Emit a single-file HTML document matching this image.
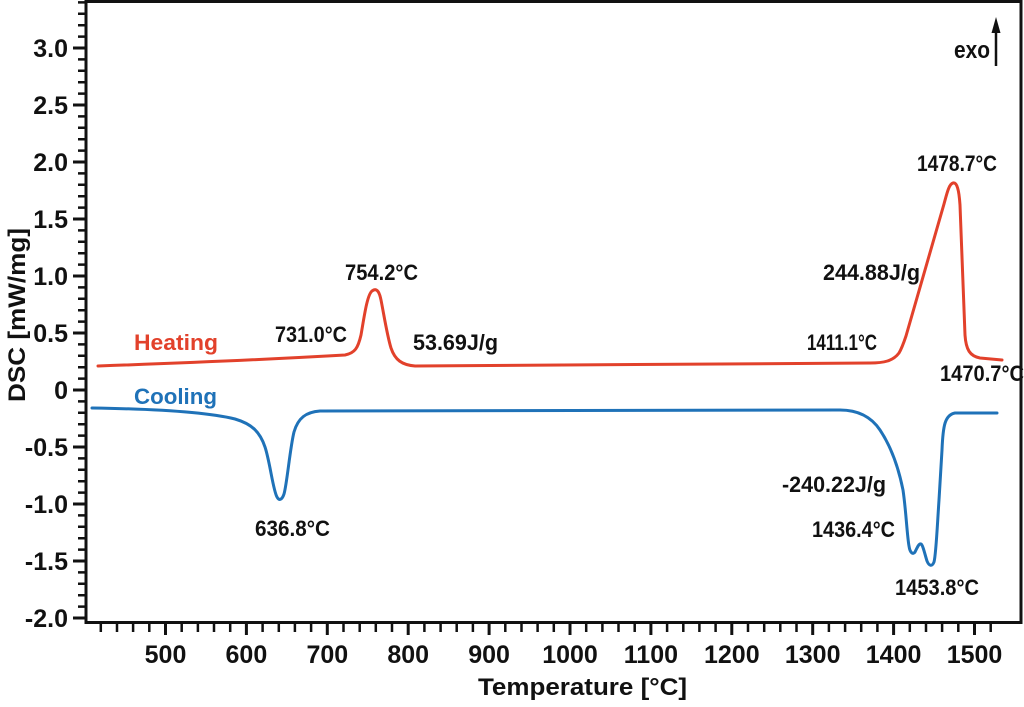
<!DOCTYPE html>
<html>
<head>
<meta charset="utf-8">
<style>
html,body{margin:0;padding:0;background:#fff;}
svg{display:block;}
text{font-family:"Liberation Sans",Arial,sans-serif;font-weight:bold;fill:#111;}
</style>
</head>
<body>
<svg width="1024" height="707" viewBox="0 0 1024 707" xmlns="http://www.w3.org/2000/svg">
<rect width="1024" height="707" fill="#fff"/>

<!-- frame -->
<rect x="86" y="1.5" width="935" height="621" fill="none" stroke="#111" stroke-width="3"/>

<!-- y minor ticks -->
<path stroke="#111" stroke-width="2.5" fill="none" d="
M78,2.4H86 M78,13.8H86 M78,25.2H86 M78,36.6H86
M78,59.4H86 M78,70.8H86 M78,82.2H86 M78,93.6H86
M78,116.4H86 M78,127.8H86 M78,139.2H86 M78,150.6H86
M78,173.4H86 M78,184.8H86 M78,196.2H86 M78,207.6H86
M78,230.4H86 M78,241.8H86 M78,253.2H86 M78,264.6H86
M78,287.4H86 M78,298.8H86 M78,310.2H86 M78,321.6H86
M78,344.4H86 M78,355.8H86 M78,367.2H86 M78,378.6H86
M78,401.4H86 M78,412.8H86 M78,424.2H86 M78,435.6H86
M78,458.4H86 M78,469.8H86 M78,481.2H86 M78,492.6H86
M78,515.4H86 M78,526.8H86 M78,538.2H86 M78,549.6H86
M78,572.4H86 M78,583.8H86 M78,595.2H86 M78,606.6H86"/>
<!-- y major ticks -->
<path stroke="#111" stroke-width="3" fill="none" d="
M73,48H86 M73,105H86 M73,162H86 M73,219H86 M73,276H86 M73,333H86
M73,390H86 M73,447H86 M73,504H86 M73,561H86 M73,618H86"/>

<!-- y tick labels -->
<g font-size="25" text-anchor="end">
<text x="68" y="57">3.0</text>
<text x="68" y="114">2.5</text>
<text x="68" y="171">2.0</text>
<text x="68" y="228">1.5</text>
<text x="68" y="285">1.0</text>
<text x="68" y="342">0.5</text>
<text x="68" y="399">0</text>
<text x="68" y="456">-0.5</text>
<text x="68" y="513">-1.0</text>
<text x="68" y="570">-1.5</text>
<text x="68" y="627">-2.0</text>
</g>

<!-- x minor ticks -->
<path stroke="#111" stroke-width="2.5" fill="none" d="
M100.8,623V632 M117,623V632 M133.1,623V632 M149.3,623V632
M181.7,623V632 M197.9,623V632 M214,623V632 M230.2,623V632
M262.6,623V632 M278.8,623V632 M294.9,623V632 M311.1,623V632
M343.5,623V632 M359.7,623V632 M375.8,623V632 M392,623V632
M424.4,623V632 M440.6,623V632 M456.7,623V632 M472.9,623V632
M505.3,623V632 M521.5,623V632 M537.6,623V632 M553.8,623V632
M586.2,623V632 M602.4,623V632 M618.5,623V632 M634.7,623V632
M667.1,623V632 M683.3,623V632 M699.4,623V632 M715.6,623V632
M748,623V632 M764.2,623V632 M780.3,623V632 M796.5,623V632
M828.9,623V632 M845.1,623V632 M861.2,623V632 M877.4,623V632
M909.8,623V632 M926,623V632 M942.1,623V632 M958.3,623V632
M990.7,623V632"/>
<!-- x major ticks -->
<path stroke="#111" stroke-width="3" fill="none" d="
M165.5,623V635 M246.4,623V635 M327.3,623V635 M408.2,623V635 M489.1,623V635
M570,623V635 M650.9,623V635 M731.8,623V635 M812.7,623V635 M893.6,623V635 M974.5,623V635"/>

<!-- x tick labels -->
<g font-size="25" text-anchor="middle">
<text x="165.5" y="663">500</text>
<text x="246.4" y="663">600</text>
<text x="327.3" y="663">700</text>
<text x="408.2" y="663">800</text>
<text x="489.1" y="663">900</text>
<text x="570" y="663">1000</text>
<text x="650.9" y="663">1100</text>
<text x="731.8" y="663">1200</text>
<text x="812.7" y="663">1300</text>
<text x="893.6" y="663">1400</text>
<text x="974.5" y="663">1500</text>
</g>

<!-- axis titles -->
<text x="478" y="695" font-size="24" textLength="209" lengthAdjust="spacingAndGlyphs">Temperature [°C]</text>
<text transform="translate(25,402) rotate(-90)" x="0" y="0" font-size="24" textLength="174" lengthAdjust="spacingAndGlyphs">DSC [mW/mg]</text>

<!-- heating curve -->
<path fill="none" stroke="#e2412b" stroke-width="3" stroke-linejoin="round" stroke-linecap="round" d="
M98,366 Q240,361 345,355
C355,353 358,348 361,335
C364,318 367,295 372,291
C376,288 379,290 381,300
C384,315 387,335 391,348
C395,360 402,365 415,366
L870,363
C884,363 893,361 899,353
C902,348 904,342 906,336
L944,204
C947,193 949,184 953,183
C957,182 959,190 960,205
L965,335
C966,350 970,356 980,358
L1002,360"/>

<!-- cooling curve -->
<path fill="none" stroke="#1f72b8" stroke-width="3" stroke-linejoin="round" stroke-linecap="round" d="
M92,408
C160,409 210,413 235,419
C252,424 260,432 265,447
C270,462 273,490 277,497
C279,501 282,500 284,494
C287,484 290,448 294,432
C298,418 306,412 320,411
L840,410
C860,410 872,418 880,430
C890,445 898,465 903,490
C906,510 907,535 909,546
C910,553 913,555 915,552
C917,548 919,543 921,544
C923,545 925,555 927,561
C929,566 932,567 934,562
C936,555 937,530 939,500
L942,450
C943,425 945,415 955,413
L997,413"/>

<!-- series labels -->
<text x="134" y="350" font-size="22" fill="#e2412b" style="fill:#e2412b" textLength="84" lengthAdjust="spacingAndGlyphs">Heating</text>
<text x="134" y="404" font-size="22" fill="#1f72b8" style="fill:#1f72b8" textLength="83" lengthAdjust="spacingAndGlyphs">Cooling</text>

<!-- annotations -->
<g font-size="22">
<text x="275" y="342" textLength="72" lengthAdjust="spacingAndGlyphs">731.0°C</text>
<text x="345" y="280" textLength="73" lengthAdjust="spacingAndGlyphs">754.2°C</text>
<text x="413" y="350" textLength="85" lengthAdjust="spacingAndGlyphs">53.69J/g</text>
<text x="807" y="350" textLength="70" lengthAdjust="spacingAndGlyphs">1411.1°C</text>
<text x="823" y="280" textLength="97" lengthAdjust="spacingAndGlyphs">244.88J/g</text>
<text x="917" y="171" textLength="80" lengthAdjust="spacingAndGlyphs">1478.7°C</text>
<text x="940" y="381" textLength="84" lengthAdjust="spacingAndGlyphs">1470.7°C</text>
<text x="782" y="492" textLength="104" lengthAdjust="spacingAndGlyphs">-240.22J/g</text>
<text x="812" y="537" textLength="83" lengthAdjust="spacingAndGlyphs">1436.4°C</text>
<text x="895" y="595" textLength="84" lengthAdjust="spacingAndGlyphs">1453.8°C</text>
<text x="255" y="536" textLength="75" lengthAdjust="spacingAndGlyphs">636.8°C</text>
</g>

<!-- exo arrow -->
<text x="954" y="58" font-size="24" textLength="36" lengthAdjust="spacingAndGlyphs">exo</text>
<line x1="996" y1="66" x2="996" y2="30" stroke="#111" stroke-width="2.5"/>
<polygon points="996,17 991.5,33 1000.5,33" fill="#111"/>
</svg>
</body>
</html>
